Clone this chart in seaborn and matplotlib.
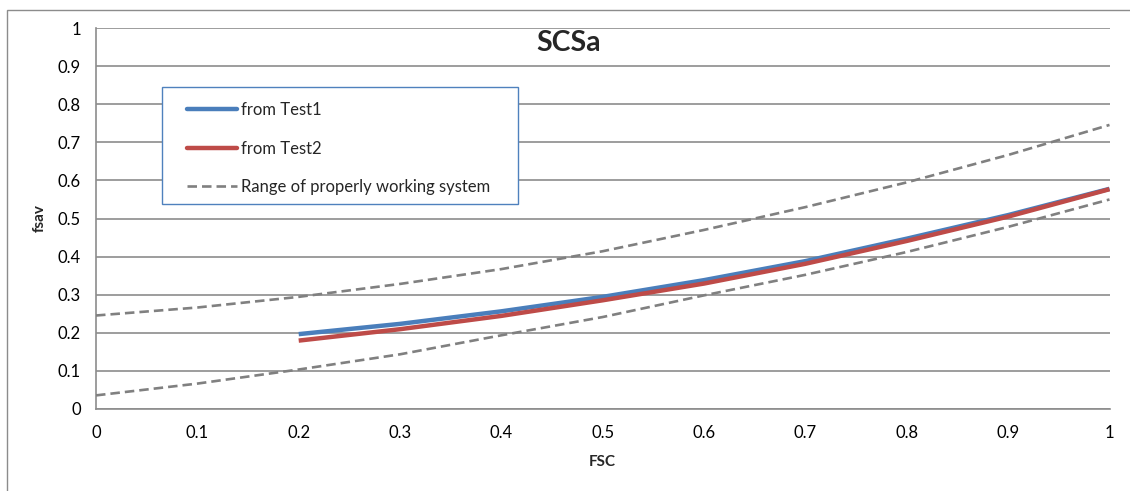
import matplotlib
matplotlib.use("Agg")
import matplotlib.pyplot as plt
import seaborn as sns
import pandas as pd
from matplotlib.patches import Rectangle
from matplotlib.lines import Line2D

# ---- data ----
range_x = [0.0, 0.1, 0.2, 0.3, 0.4, 0.5, 0.6, 0.7, 0.8, 0.9, 1.0]
range_upper = [0.245, 0.266, 0.294, 0.328, 0.367, 0.414, 0.470, 0.530, 0.595, 0.667, 0.746]
range_lower = [0.035, 0.066, 0.103, 0.143, 0.193, 0.241, 0.298, 0.352, 0.412, 0.478, 0.550]
test_x = [0.2, 0.3, 0.4, 0.5, 0.6, 0.7, 0.8, 0.9, 1.0]
test1 = [0.196, 0.223, 0.256, 0.294, 0.338, 0.388, 0.447, 0.509, 0.578]
test2 = [0.179, 0.209, 0.244, 0.285, 0.329, 0.381, 0.441, 0.505, 0.577]
x_ticks = [0, 0.1, 0.2, 0.3, 0.4, 0.5, 0.6, 0.7, 0.8, 0.9, 1]
y_ticks = [0, 0.1, 0.2, 0.3, 0.4, 0.5, 0.6, 0.7, 0.8, 0.9, 1]
tick_labels = ["0", "0.1", "0.2", "0.3", "0.4", "0.5", "0.6", "0.7", "0.8", "0.9", "1"]
labels = ["from Test1", "from Test2", "Range of properly working system"]
title = "SCSa"
xlabel = "FSC"
ylabel = "fsav"

sns.set_theme(style="white")
plt.rcParams["font.family"] = ["Lato", "DejaVu Sans"]

BLUE = "#4A7EBB"
RED = "#BE4B48"
GRAY = "#808080"
GRID = "#8C8C8C"
DASH = (0, (3.6, 1.9))

fig = plt.figure(figsize=(11.3, 4.91), dpi=100)
ax = fig.add_axes([96 / 1130, 1 - 408.7 / 491, (1109.5 - 96) / 1130, (408.7 - 28.3) / 491])

df_range = pd.DataFrame({"x": range_x, "upper": range_upper, "lower": range_lower})
df_test = pd.DataFrame({"x": test_x, "t1": test1, "t2": test2})

sns.lineplot(data=df_range, x="x", y="upper", ax=ax, color=GRAY, lw=1.9,
             linestyle=DASH, zorder=3)
sns.lineplot(data=df_range, x="x", y="lower", ax=ax, color=GRAY, lw=1.9,
             linestyle=DASH, zorder=3)
sns.lineplot(data=df_test, x="x", y="t1", ax=ax, color=BLUE, lw=3.2, zorder=4,
             solid_capstyle="butt")
sns.lineplot(data=df_test, x="x", y="t2", ax=ax, color=RED, lw=3.2, zorder=5,
             solid_capstyle="butt")

ax.set_xlim(0, 1)
ax.set_ylim(0, 1)
ax.set_xticks(x_ticks)
ax.set_xticklabels(tick_labels)
ax.set_yticks(y_ticks)
ax.set_yticklabels(tick_labels)
ax.yaxis.grid(True, color=GRID, lw=1.2)
ax.xaxis.grid(False)
ax.set_axisbelow(True)
for s in ["top", "right"]:
    ax.spines[s].set_visible(False)
for s in ["left", "bottom"]:
    ax.spines[s].set_color(GRID)
    ax.spines[s].set_linewidth(1.2)
ax.tick_params(axis="both", which="both", direction="out", length=5, width=1.2,
               color=GRID, labelsize=12, labelcolor="black")
ax.tick_params(axis="x", pad=7)
ax.tick_params(axis="y", pad=6)
ax.set_xlabel(xlabel, fontsize=11, fontweight="bold", labelpad=10)
ax.set_ylabel(ylabel, fontsize=11, fontweight="bold", labelpad=8)

fig.text(569 / 1130, 1 - 43 / 491, title, ha="center", va="center",
         fontsize=20.5, fontweight="bold")

# legend
handles = [Line2D([], [], color=BLUE, lw=3.2),
           Line2D([], [], color=RED, lw=3.2),
           Line2D([], [], color=GRAY, lw=1.9, linestyle=DASH)]
leg = fig.legend(handles, labels, loc="upper left",
                 bbox_to_anchor=(187 / 1130, 1 - 102 / 491), frameon=False,
                 fontsize=12, handlelength=3.0, handletextpad=0.25,
                 labelspacing=1.35, borderpad=0.0, borderaxespad=0.0)
fig.add_artist(Rectangle((161.7 / 1130, 1 - 204 / 491), (518 - 161.7) / 1130,
                         (204 - 87.3) / 491, transform=fig.transFigure,
                         facecolor="white", edgecolor="#4F81BD", lw=1.0, zorder=1))
leg.set_zorder(10)

# outer chart frame
fig.add_artist(Rectangle((6.5 / 1130, -0.2), 1.2, 1.2 - 9.5 / 491,
                         transform=fig.transFigure, facecolor="none",
                         edgecolor="#8C8C8C", lw=1.0, zorder=0))

fig.savefig("out.png", dpi=100)
